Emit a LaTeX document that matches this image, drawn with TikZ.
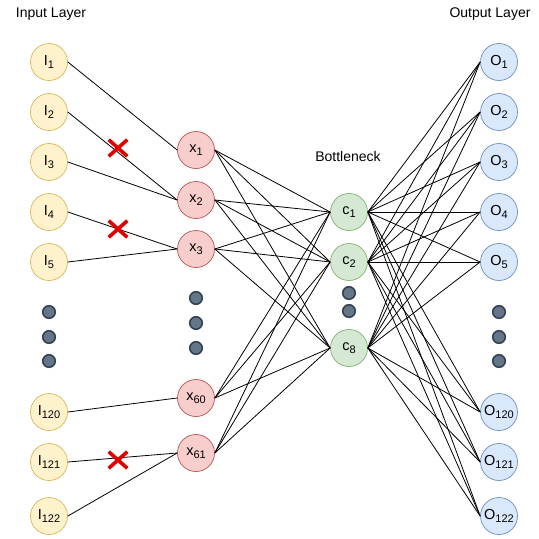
\documentclass[tikz,border=0pt]{standalone}
\usepackage{fontspec}
\setmainfont{Liberation Sans}
\usetikzlibrary{shapes.misc}
\definecolor{inFill}{HTML}{FFF2CC}
\definecolor{inLine}{HTML}{D6B656}
\definecolor{hidFill}{HTML}{F8CECC}
\definecolor{hidLine}{HTML}{B85450}
\definecolor{botFill}{HTML}{D5E8D4}
\definecolor{botLine}{HTML}{82B366}
\definecolor{outFill}{HTML}{DAE8FC}
\definecolor{outLine}{HTML}{6C8EBF}
\definecolor{dotFill}{HTML}{647687}
\definecolor{dotLine}{HTML}{314354}
\definecolor{cutRed}{HTML}{E00000}
\newcommand{\lowidx}[1]{\raisebox{-.45ex}{\fontsize{11}{12}\selectfont #1}}
\begin{document}
\begin{tikzpicture}
      [ x = 1pt, y = -1pt
      , neuron/.style =
        { circle, draw, line width = .7pt, minimum size = 37pt, inner sep = 0pt
        , font = \fontsize{14.5}{16}\selectfont }
      , input/.style =
        { neuron, fill = inFill, draw = inLine }
      , hidden/.style =
        { neuron, fill = hidFill, draw = hidLine }
      , code/.style =
        { neuron, fill = botFill, draw = botLine }
      , output/.style =
        { neuron, fill = outFill, draw = outLine }
      , more/.style =
        { circle, fill = dotFill, draw = dotLine, line width = 1.6pt
        , minimum size = 12.5pt, inner sep = 0pt }
      , cut/.style =
        { cross out, draw = cutRed, line width = 3.6pt, minimum width = 15pt
        , minimum height = 13pt, inner sep = 0pt }
      , title/.style =
        { font = \fontsize{14}{16}\selectfont }
      , edge/.style =
        { line width = .8pt }
      ]
      \useasboundingbox (0, 0) rectangle (539, 539);
      \node [title] (inTitle) at (51, 14) {Input Layer};
      \node [title] (outTitle) at (490, 14) {Output Layer};
      \node [title] (botTitle) at (348, 156) {Bottleneck};
      % input layer
      \node [input] (i1) at (49, 62) {I\lowidx{1}};
      \node [input] (i2) at (49, 112) {I\lowidx{2}};
      \node [input] (i3) at (49, 162) {I\lowidx{3}};
      \node [input] (i4) at (49, 212) {I\lowidx{4}};
      \node [input] (i5) at (49, 262) {I\lowidx{5}};
      \node [more] (id1) at (49, 312) {};
      \node [more] (id2) at (49, 337) {};
      \node [more] (id3) at (49, 361) {};
      \node [input] (i120) at (49, 412) {I\lowidx{120}};
      \node [input] (i121) at (49, 462) {I\lowidx{121}};
      \node [input] (i122) at (49, 516) {I\lowidx{122}};
      % encoder
      \node [hidden] (x1) at (196, 150) {x\lowidx{1}};
      \node [hidden] (x2) at (196, 200) {x\lowidx{2}};
      \node [hidden] (x3) at (196, 249) {x\lowidx{3}};
      \node [more] (xd1) at (196, 298) {};
      \node [more] (xd2) at (196, 323) {};
      \node [more] (xd3) at (196, 348) {};
      \node [hidden] (x60) at (196, 398) {x\lowidx{60}};
      \node [hidden] (x61) at (196, 453) {x\lowidx{61}};
      % bottleneck
      \node [code] (c1) at (349, 212) {c\lowidx{1}};
      \node [code] (c2) at (349, 262) {c\lowidx{2}};
      \node [more] (cd1) at (349, 293) {};
      \node [more] (cd2) at (349, 311) {};
      \node [code] (c8) at (349, 348) {c\lowidx{8}};
      % output layer
      \node [output] (o1) at (499, 62) {O\lowidx{1}};
      \node [output] (o2) at (499, 112) {O\lowidx{2}};
      \node [output] (o3) at (499, 162) {O\lowidx{3}};
      \node [output] (o4) at (499, 212) {O\lowidx{4}};
      \node [output] (o5) at (499, 262) {O\lowidx{5}};
      \node [more] (od1) at (499, 312) {};
      \node [more] (od2) at (499, 337) {};
      \node [more] (od3) at (499, 361) {};
      \node [output] (o120) at (499, 412) {O\lowidx{120}};
      \node [output] (o121) at (499, 462) {O\lowidx{121}};
      \node [output] (o122) at (499, 516) {O\lowidx{122}};
      % input to encoder
      \draw [edge] (i1.east) to (x1.west);
      \draw [edge] (i2.east) to (x2.west);
      \draw [edge] (i3.east) to (x2.west);
      \draw [edge] (i4.east) to (x3.west);
      \draw [edge] (i5.east) to (x3.west);
      \draw [edge] (i120.east) to (x60.west);
      \draw [edge] (i121.east) to (x61.west);
      \draw [edge] (i122.east) to (x61.west);
      % encoder to bottleneck
      \draw [edge] (x1.east) to (c1.west);
      \draw [edge] (x1.east) to (c2.west);
      \draw [edge] (x1.east) to (c8.west);
      \draw [edge] (x2.east) to (c1.west);
      \draw [edge] (x2.east) to (c2.west);
      \draw [edge] (x2.east) to (c8.west);
      \draw [edge] (x3.east) to (c1.west);
      \draw [edge] (x3.east) to (c2.west);
      \draw [edge] (x3.east) to (c8.west);
      \draw [edge] (x60.east) to (c1.west);
      \draw [edge] (x60.east) to (c2.west);
      \draw [edge] (x60.east) to (c8.west);
      \draw [edge] (x61.east) to (c1.west);
      \draw [edge] (x61.east) to (c2.west);
      \draw [edge] (x61.east) to (c8.west);
      % bottleneck to output
      \draw [edge] (c1.east) to (o1.west);
      \draw [edge] (c1.east) to (o2.west);
      \draw [edge] (c1.east) to (o3.west);
      \draw [edge] (c1.east) to (o4.west);
      \draw [edge] (c1.east) to (o5.west);
      \draw [edge] (c1.east) to (o120.west);
      \draw [edge] (c1.east) to (o121.west);
      \draw [edge] (c1.east) to (o122.west);
      \draw [edge] (c2.east) to (o1.west);
      \draw [edge] (c2.east) to (o2.west);
      \draw [edge] (c2.east) to (o3.west);
      \draw [edge] (c2.east) to (o4.west);
      \draw [edge] (c2.east) to (o5.west);
      \draw [edge] (c2.east) to (o120.west);
      \draw [edge] (c2.east) to (o121.west);
      \draw [edge] (c2.east) to (o122.west);
      \draw [edge] (c8.east) to (o1.west);
      \draw [edge] (c8.east) to (o2.west);
      \draw [edge] (c8.east) to (o3.west);
      \draw [edge] (c8.east) to (o4.west);
      \draw [edge] (c8.east) to (o5.west);
      \draw [edge] (c8.east) to (o120.west);
      \draw [edge] (c8.east) to (o121.west);
      \draw [edge] (c8.east) to (o122.west);
      % dropped links
      \node [cut] (cut1) at (118, 148) {};
      \node [cut] (cut2) at (118, 229) {};
      \node [cut] (cut3) at (118, 460) {};
    \end{tikzpicture}
\end{document}
